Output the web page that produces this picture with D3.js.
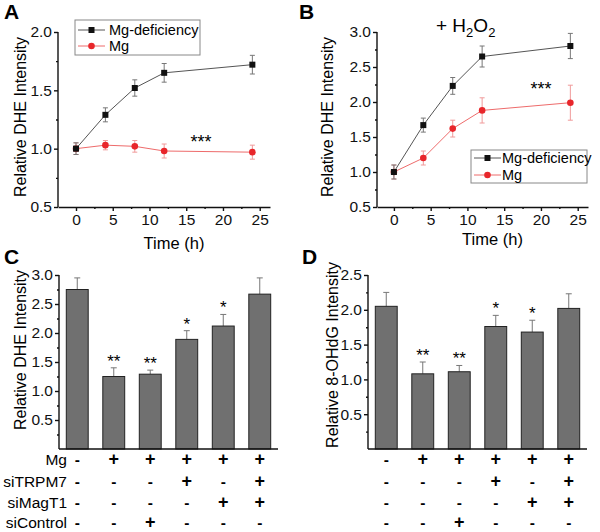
<!DOCTYPE html>
<html>
<head>
<meta charset="utf-8">
<script src="https://cdn.jsdelivr.net/npm/d3@7"></script>
<style>
  body { margin: 0; background: #fff; }
  svg { font-family: "Liberation Sans", Arial, sans-serif; }
</style>
</head>
<body>
<svg id="fig" width="600" height="532"></svg>
<script>
// time course data (panels A and B)
const hours = [0, 4, 8, 12, 24]
const aDef = [1.0, 1.29, 1.52, 1.65, 1.72]
const aDefErr = [0.05, 0.06, 0.07, 0.08, 0.08]
const aMg = [1.0, 1.03, 1.02, 0.98, 0.97]
const aMgErr = [0.05, 0.04, 0.05, 0.06, 0.06]
const bDef = [1.0, 1.67, 2.23, 2.65, 2.8]
const bDefErr = [0.1, 0.1, 0.12, 0.15, 0.18]
const bMg = [1.0, 1.2, 1.62, 1.88, 1.99]
const bMgErr = [0.1, 0.1, 0.12, 0.18, 0.25]

// bar data (panels C and D)
const cVals = [2.75, 1.25, 1.29, 1.89, 2.12, 2.67]
const cErr = [0.2, 0.15, 0.07, 0.15, 0.2, 0.28]
const cStars = ["", "**", "**", "*", "*", ""]
const dVals = [2.05, 1.08, 1.11, 1.76, 1.68, 2.02]
const dErr = [0.2, 0.17, 0.09, 0.16, 0.17, 0.21]
const dStars = ["", "**", "**", "*", "*", ""]

const rowNames = ["Mg", "siTRPM7", "siMagT1", "siControl"]
const rowSigns = [
  ["-", "+", "+", "+", "+", "+"],
  ["-", "-", "-", "+", "-", "+"],
  ["-", "-", "-", "-", "+", "+"],
  ["-", "-", "+", "-", "-", "-"]
]

const svg = d3.select("#fig")
const black = "#111", red = "#e8262b"

function rangeStep(a, b, s) {
  let out = []
  for (let v = a; v <= b + 1e-9; v += s) out.push(+v.toFixed(3))
  return out
}

function styleAxis(g) {
  g.selectAll("path, line").attr("stroke", "#111").attr("stroke-width", 1.4)
  g.selectAll("text").attr("fill", "#111").style("font-size", "15.5px")
}

function yAxis(g, y, x0, majors, minors, fmt) {
  let ax = g.append("g").attr("transform", "translate(" + x0 + ",0)")
    .call(d3.axisLeft(y).tickValues(majors).tickSize(4).tickSizeOuter(0).tickPadding(2).tickFormat(fmt))
  styleAxis(ax)
  ax.select(".domain").attr("d", "M0," + y.range()[0] + "V" + y(majors[majors.length - 1]))
  let mi = g.append("g").attr("transform", "translate(" + x0 + ",0)")
    .call(d3.axisLeft(y).tickValues(minors).tickSize(2).tickFormat(""))
  mi.select(".domain").remove()
  styleAxis(mi)
}

function lineChart(opt) {
  const g = svg.append("g")
  const x = d3.scaleLinear().domain(opt.xdom).range(opt.xr)
  const y = d3.scaleLinear().domain(opt.ydom).range([207, 32])
  const yMaj = rangeStep(opt.ydom[0], opt.ydom[1], 0.5)
  const yMin = rangeStep(opt.ydom[0] + 0.25, opt.ydom[1], 0.5)
  yAxis(g, y, opt.xr[0], yMaj, yMin, d3.format(".1f"))

  let xa = g.append("g").attr("transform", "translate(0,207)")
    .call(d3.axisBottom(x).tickValues([0, 5, 10, 15, 20, 25]).tickSize(4).tickSizeOuter(0).tickPadding(3))
  styleAxis(xa)
  let xm = g.append("g").attr("transform", "translate(0,207)")
    .call(d3.axisBottom(x).tickValues([2.5, 7.5, 12.5, 17.5, 22.5]).tickSize(2).tickFormat(""))
  xm.select(".domain").remove()
  styleAxis(xm)

  g.append("text").attr("x", (opt.xr[0] + opt.xr[1]) / 2 + 10).attr("y", opt.titleY)
    .attr("text-anchor", "middle").style("font-size", "16.5px").text("Time (h)")
  g.append("text").attr("transform", "translate(" + opt.ylabX + ",117) rotate(-90)")
    .attr("text-anchor", "middle").style("font-size", "16px").text("Relative DHE Intensity")

  const series = [
    { v: opt.def, e: opt.defErr, line: "#555", mk: black, err: "#777", sq: true },
    { v: opt.mg, e: opt.mgErr, line: "#ee6b6b", mk: red, err: "#f09a9a", sq: false }
  ]
  const line = d3.line().x((d, i) => x(hours[i])).y(d => y(d))
  series.slice().reverse().forEach(s => {
    g.append("path").datum(s.v).attr("d", line).attr("fill", "none")
      .attr("stroke", s.line).attr("stroke-width", 1)
    s.v.forEach((v, i) => {
      const cx = x(hours[i])
      g.append("path").attr("fill", "none").attr("stroke", s.err).attr("stroke-width", 1)
        .attr("d", "M" + cx + "," + y(v - s.e[i]) + "V" + y(v + s.e[i]) +
          "M" + (cx - 2.5) + "," + y(v - s.e[i]) + "h5M" + (cx - 2.5) + "," + y(v + s.e[i]) + "h5")
      if (s.sq) g.append("rect").attr("x", cx - 3).attr("y", y(v) - 3).attr("width", 6).attr("height", 6).attr("fill", s.mk)
      else g.append("circle").attr("cx", cx).attr("cy", y(v)).attr("r", 3.3).attr("fill", s.mk)
    })
  })

  // legend
  const L = opt.legend
  g.append("rect").attr("x", L.x).attr("y", L.y).attr("width", L.w).attr("height", L.h)
    .attr("fill", "#fff").attr("stroke", "#888").attr("stroke-width", 1)
  const names = ["Mg-deficiency", "Mg"]
  series.forEach((s, i) => {
    const ly = L.y + L.rows[i]
    g.append("line").attr("x1", L.x + 3).attr("x2", L.x + 30).attr("y1", ly).attr("y2", ly)
      .attr("stroke", s.line).attr("stroke-width", 1)
    if (s.sq) g.append("rect").attr("x", L.x + 13.5).attr("y", ly - 3).attr("width", 6).attr("height", 6).attr("fill", s.mk)
    else g.append("circle").attr("cx", L.x + 16.5).attr("cy", ly).attr("r", 3.3).attr("fill", s.mk)
    g.append("text").attr("x", L.x + L.tx).attr("y", ly + 5).style("font-size", "14.5px").text(names[i])
  })

  g.append("text").attr("x", x(opt.star[0])).attr("y", y(opt.star[1]) + 9).attr("text-anchor", "middle")
    .style("font-size", "18px").text("***")
  g.append("text").attr("x", opt.letter[0]).attr("y", opt.letter[1])
    .style("font-size", "21px").style("font-weight", "bold").text(opt.name)
  return g
}

lineChart({
  name: "A", letter: [4, 19], xdom: [-2.45, 26.4], xr: [58, 270], ydom: [0.5, 2.0],
  def: aDef, defErr: aDefErr, mg: aMg, mgErr: aMgErr,
  titleY: 249, ylabX: 26, star: [17, 1.08],
  legend: { x: 75, y: 20, w: 125, h: 35, rows: [10, 26], tx: 34 }
})

const gB = lineChart({
  name: "B", letter: [299, 19], xdom: [-2.3, 26.4], xr: [377, 588], ydom: [0.5, 3.0],
  def: bDef, defErr: bDefErr, mg: bMg, mgErr: bMgErr,
  titleY: 245, ylabX: 333, star: [20, 2.23],
  legend: { x: 471, y: 150, w: 116, h: 33, rows: [8, 25], tx: 31 }
})
const h2o2 = gB.append("text").attr("x", 436).attr("y", 32).style("font-size", "19px")
h2o2.append("tspan").text("+ H")
h2o2.append("tspan").attr("dy", 5).style("font-size", "13px").text("2")
h2o2.append("tspan").attr("dy", -5).text("O")
h2o2.append("tspan").attr("dy", 5).style("font-size", "13px").text("2")

function barChart(opt) {
  const g = svg.append("g")
  const x = d3.scaleBand().domain(d3.range(6)).range(opt.xr).paddingInner(0.4).paddingOuter(0.2)
  const y = d3.scaleLinear().domain([0, opt.ymax]).range([449, 275])
  const yMaj = rangeStep(0.5, opt.ymax, 0.5)
  const yMin = rangeStep(0.25, opt.ymax, 0.5)
  yAxis(g, y, opt.xr[0], yMaj, yMin, d3.format(".1f"))

  opt.vals.forEach((v, i) => {
    const cx = x(i) + x.bandwidth() / 2
    g.append("path").attr("fill", "none").attr("stroke", "#777").attr("stroke-width", 1)
      .attr("d", "M" + cx + "," + y(v) + "V" + y(v + opt.err[i]) + "M" + (cx - 3) + "," + y(v + opt.err[i]) + "h6")
    g.append("rect").attr("x", x(i)).attr("y", y(v)).attr("width", x.bandwidth()).attr("height", y(0) - y(v))
      .attr("fill", "#707070").attr("stroke", "#222").attr("stroke-width", 1)
    if (opt.stars[i]) g.append("text").attr("x", cx).attr("y", y(v + opt.err[i]) - 1)
      .attr("text-anchor", "middle").style("font-size", "17px").text(opt.stars[i])
  })

  g.append("line").attr("x1", opt.xr[0]).attr("x2", opt.xr[1]).attr("y1", 449).attr("y2", 449)
    .attr("stroke", "#111").attr("stroke-width", 1.4)

  const rowY = [465, 487, 508, 528]
  rowSigns.forEach((row, r) => {
    if (opt.showNames) g.append("text").attr("x", opt.xr[0] + 8).attr("y", rowY[r])
      .attr("text-anchor", "end").style("font-size", "15.5px").text(rowNames[r])
    row.forEach((s, i) => {
      g.append("text").attr("x", x(i) + x.bandwidth() / 2).attr("y", rowY[r])
        .attr("text-anchor", "middle").style("font-size", s === "+" ? "18px" : "15.5px")
        .style("font-weight", "bold").text(s)
    })
  })

  g.append("text").attr("transform", "translate(" + opt.ylabX + "," + opt.ylabY + ") rotate(-90)")
    .attr("text-anchor", "middle").style("font-size", "16px").text(opt.ylab)
  g.append("text").attr("x", opt.letter[0]).attr("y", opt.letter[1])
    .style("font-size", "21px").style("font-weight", "bold").text(opt.name)
}

barChart({
  name: "C", letter: [4, 264], xr: [59, 278], ymax: 3.0, vals: cVals, err: cErr, stars: cStars,
  ylab: "Relative DHE Intensity", ylabX: 26, ylabY: 350, showNames: true
})
barChart({
  name: "D", letter: [302, 264], xr: [368, 587], ymax: 2.5, vals: dVals, err: dErr, stars: dStars,
  ylab: "Relative 8-OHdG Intensity", ylabX: 338, ylabY: 355, showNames: false
})
</script>
</body>
</html>
